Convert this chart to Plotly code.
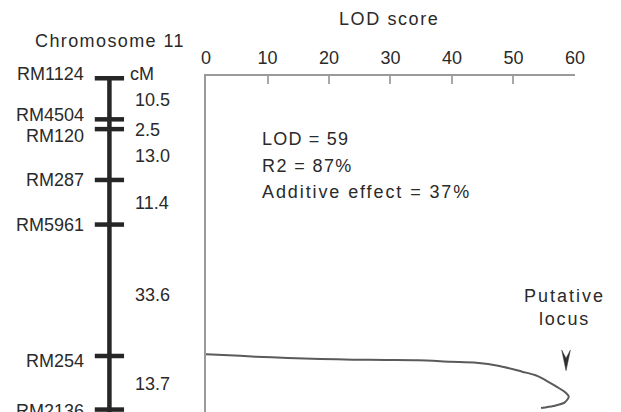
import itertools
import plotly.graph_objects as go

W, H = 621, 412

# Linkage map of chromosome 11 (markers and cM distance between neighbours)
markers = ["RM1124", "RM4504", "RM120", "RM287", "RM5961", "RM254", "RM2136"]
intervals = [10.5, 2.5, 13.0, 11.4, 33.6, 13.7]

# LOD profile along the chromosome (position in cM, LOD score)
profile_cm = [70.56, 70.74, 71.17, 71.51, 71.76, 71.94, 72.02, 72.09, 72.45, 72.71,
              73.55, 75.01, 75.85, 76.70, 78.84, 80.12, 81.40, 82.93, 83.78, 84.29]
profile_lod = [0.0, 2.75, 8.05, 13.33, 18.62, 23.92, 29.21, 34.49, 39.79, 43.97,
               47.73, 51.43, 53.49, 54.70, 57.0, 58.3, 59.0, 58.3, 56.5, 54.5]

lod_ticks = [0, 10, 20, 30, 40, 50, 60]
qtl_stats = ["LOD = 59", "R2 = 87%", "Additive effect = 37%"]
peak_lod = 59
peak_cm = 81.40

marker_cm = [0.0] + list(itertools.accumulate(intervals))
mid_cm = [(a + b) / 2 for a, b in zip(marker_cm[:-1], marker_cm[1:])]

FONT = "Liberation Sans, Arial, sans-serif"
TXT = "#2a2a2a"
AXIS = "#9a9a9a"


def spaced(text, ls=1.8):
    return f'<span style="letter-spacing:{ls}px">{text}</span>'


def px(x):
    return x / W


def py(y):
    return 1 - y / H


fig = go.Figure()

# chromosome backbone
fig.add_trace(go.Scatter(
    x=[107, 107], y=[marker_cm[0], marker_cm[-1] + 5], xaxis="x2", yaxis="y",
    mode="lines", line=dict(color="#262626", width=4.5), hoverinfo="skip",
    showlegend=False))

# marker ticks across the backbone
tick_x, tick_y = [], []
for c in marker_cm:
    tick_x += [92, 122, None]
    tick_y += [c, c, None]
fig.add_trace(go.Scatter(
    x=tick_x, y=tick_y, xaxis="x2", yaxis="y", mode="lines",
    line=dict(color="#262626", width=4.5), hoverinfo="skip", showlegend=False))

# LOD curve
fig.add_trace(go.Scatter(
    x=profile_lod, y=profile_cm, xaxis="x", yaxis="y", mode="lines",
    line=dict(color="#5a5a5a", width=2, shape="spline", smoothing=0.8),
    hoverinfo="skip", showlegend=False))

annotations = []
font = dict(family=FONT, size=18, color=TXT)

# marker names, nudged apart where ticks are close
marker_shift = [4, 4, -7, 0, 0, -5, -1]
for name, c, s in zip(markers, marker_cm, marker_shift):
    annotations.append(dict(x=83, y=c, xref="x2", yref="y", text=name,
                            xanchor="right", yanchor="middle", yshift=s,
                            showarrow=False, font=font))

# interval lengths
interval_shift = [-1, -6, -1, -1, -5, -1]
for d, c, s in zip(intervals, mid_cm, interval_shift):
    annotations.append(dict(x=131, y=c, xref="x2", yref="y", text=f"{d:.1f}",
                            xanchor="left", yanchor="middle", yshift=s,
                            showarrow=False, font=font))

annotations.append(dict(x=px(126), y=py(74), xref="paper", yref="paper", text="cM",
                        xanchor="left", yanchor="middle", showarrow=False, font=font))
annotations.append(dict(x=px(108), y=py(41), xref="paper", yref="paper",
                        text=spaced("Chromosome 11", 1.4),
                        xanchor="center", yanchor="middle", showarrow=False, font=font))
annotations.append(dict(x=px(393), y=py(19), xref="paper", yref="paper",
                        text=spaced("LOD score", 1.6),
                        xanchor="center", yanchor="middle", showarrow=False, font=font))

stat_spacing = [1.2, 1.4, 1.9]
for i, (t, ls) in enumerate(zip(qtl_stats, stat_spacing)):
    annotations.append(dict(x=px(261), y=py(139 + 26.5 * i), xref="paper", yref="paper",
                            text=spaced(t, ls), xanchor="left", yanchor="middle",
                            align="left", showarrow=False, font=font))

annotations.append(dict(x=px(573), y=py(307), xref="paper", yref="paper",
                        text=spaced("Putative", 2.0) + "<br>" + spaced("locus", 1.8),
                        xanchor="center", yanchor="middle", align="center",
                        showarrow=False, font=font))

# arrow marking the putative locus
shapes = [dict(type="path", xref="x", yref="y", xsizemode="pixel", ysizemode="pixel",
               xanchor=peak_lod, yanchor=peak_cm,
               path="M -7,46.5 L -2.7,38.5 L 1.6,46.5 L -2.7,26 Z",
               fillcolor="#303030", line=dict(color="#303030", width=0.5))]

fig.update_layout(
    width=W, height=H,
    margin=dict(l=0, r=0, t=0, b=0),
    paper_bgcolor="white", plot_bgcolor="white",
    font=font,
    showlegend=False,
    xaxis=dict(domain=[px(206), px(584)], range=[0, 60], side="top", anchor="y",
               tickvals=lod_ticks, ticktext=[str(v) for v in lod_ticks],
               ticks="inside", ticklen=8, tickwidth=2, tickcolor="#a8a8a8",
               ticklabelstandoff=3,
               showline=True, linecolor=AXIS, linewidth=1.5,
               showgrid=False, zeroline=False,
               tickfont=dict(family=FONT, size=18, color=TXT)),
    xaxis2=dict(domain=[0, px(206)], range=[0, 206], anchor="y", visible=False),
    yaxis=dict(domain=[0, py(76)], range=[85.32, -0.58], autorange=False,
               showline=True, linecolor=AXIS, linewidth=1.5,
               showticklabels=False, ticks="", showgrid=False, zeroline=False),
    annotations=annotations,
    shapes=shapes,
)

fig.write_html("out.html")
